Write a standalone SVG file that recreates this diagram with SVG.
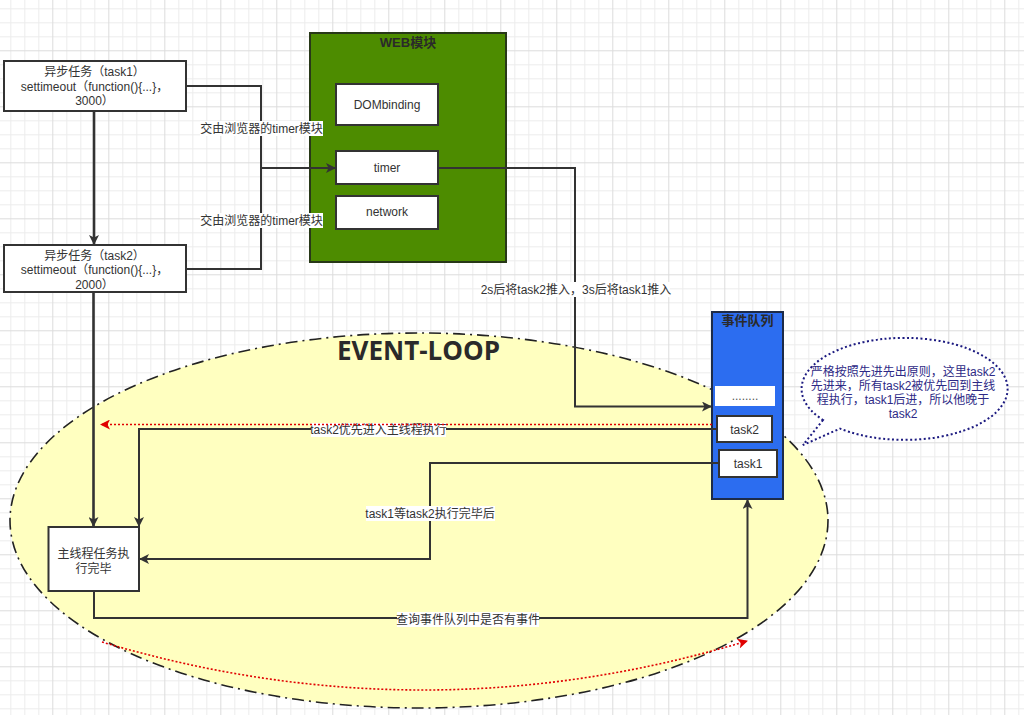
<svg xmlns="http://www.w3.org/2000/svg" width="1024" height="715" viewBox="0 0 1024 715">
<defs>
<pattern id="grid" patternUnits="userSpaceOnUse" x="10.3" y="8.3" width="56" height="56">
<path d="M0.5,0V56M14.5,0V56M28.5,0V56M0,0.5H56M0,14.5H56M0,28.5H56" stroke="#ececec" stroke-width="1" fill="none"/>
<path d="M42.5,0V56M0,42.5H56" stroke="#dcdcdc" stroke-width="1" fill="none"/>
</pattern>
<marker id="arr" viewBox="0 0 10 10" refX="9" refY="5" markerWidth="11" markerHeight="10" markerUnits="userSpaceOnUse" orient="auto">
<path d="M0,0 L10,5 L0,10 L2.5,5 Z" fill="#333"/>
</marker>
<marker id="arrRed" viewBox="0 0 10 10" refX="9" refY="5" markerWidth="11" markerHeight="10" markerUnits="userSpaceOnUse" orient="auto">
<path d="M0,0 L10,5 L0,10 L2.5,5 Z" fill="#e00000"/>
</marker>
<style>
text{font-family:"Liberation Sans","Noto Sans CJK SC",sans-serif;font-size:12px;fill:#333;text-anchor:middle}
.box{fill:#fff;stroke:#333;stroke-width:2}
.ln{fill:none;stroke:#333;stroke-width:2}
.thick{fill:none;stroke:#333;stroke-width:2.6}
.red{fill:none;stroke:#e00000;stroke-width:1.6;stroke-dasharray:2 2}
.lbg{fill:#fff}
.title{font-weight:bold;font-size:13px;fill:#2a2a2a}
.note{fill:#2e2a86}
</style>
</defs>
<rect width="1024" height="715" fill="#fff"/>
<rect width="1024" height="715" fill="url(#grid)"/>

<g id="event-loop">
<ellipse cx="419" cy="520.5" rx="409" ry="187.5" fill="#ffffc0" stroke="#222" stroke-width="1.6" stroke-dasharray="12 5 2 5"/>
<text x="418.5" y="360" style="font-family:'Open Sans','Noto Sans CJK SC',sans-serif;font-size:26px;font-weight:bold;fill:#2a2a2a">EVENT-LOOP</text>
</g>

<g id="web-module">
<rect x="310" y="33" width="196" height="229" fill="#4d8c00" stroke="#283818" stroke-width="2"/>
<text class="title" x="408" y="47">WEB模块</text>
</g>
<g id="dombinding">
<rect class="box" x="336" y="84" width="102" height="41"/>
<text x="387" y="109">DOMbinding</text>
</g>
<g id="timer">
<rect class="box" x="336" y="151" width="102" height="33"/>
<text x="387" y="172">timer</text>
</g>
<g id="network">
<rect class="box" x="336" y="196" width="102" height="33"/>
<text x="387" y="216">network</text>
</g>

<g id="task1-async">
<rect class="box" x="4" y="61" width="182" height="50"/>
<text x="94.5" y="76">异步任务（task1）</text>
<text x="94.5" y="90.5">settimeout（function(){...}，</text>
<text x="94.5" y="105">3000）</text>
</g>
<g id="task2-async">
<rect class="box" x="4" y="245" width="182" height="47"/>
<text x="94.5" y="259.5">异步任务（task2）</text>
<text x="94.5" y="274">settimeout（function(){...}，</text>
<text x="94.5" y="288.5">2000）</text>
</g>

<g id="event-queue">
<rect x="712" y="312" width="71" height="187" fill="#2c6df0" stroke="#1d2b48" stroke-width="2"/>
<text class="title" x="747.5" y="325">事件队列</text>
<rect x="715" y="386" width="60" height="20" fill="#fff"/>
<text x="745" y="400" style="fill:#555">........</text>
</g>
<g id="queue-task2">
<rect class="box" x="717" y="416" width="55" height="26"/>
<text x="744.5" y="433.5">task2</text>
</g>
<g id="queue-task1">
<rect class="box" x="719" y="450" width="58" height="27"/>
<text x="748" y="467.5">task1</text>
</g>

<g id="main-thread">
<rect class="box" x="48.5" y="527" width="90.5" height="64"/>
<text x="93.5" y="558">主线程任务执</text>
<text x="93.5" y="573">行完毕</text>
</g>

<g id="callout">
<path d="M823,420 L803,445 L840,428.6 A103,51 0 1 0 823,420 Z" fill="#fff" stroke="#1c1a80" stroke-width="2" stroke-dasharray="2 2.5"/>
<text class="note" x="903" y="375.5">严格按照先进先出原则，这里task2</text>
<text class="note" x="903" y="389.5">先进来，所有task2被优先回到主线</text>
<text class="note" x="903" y="404">程执行，task1后进，所以他晚于</text>
<text class="note" x="903" y="418">task2</text>
</g>

<g id="connectors">
<path class="thick" d="M94,111 V244" marker-end="url(#arr)"/>
<path class="ln" d="M186,86 H261 V168 H335" marker-end="url(#arr)"/>
<path class="ln" d="M186,269 H261 V168"/>
<path class="ln" d="M438,168 H575 V406.5 H711" marker-end="url(#arr)"/>
<path class="thick" d="M93.5,292 V526" marker-end="url(#arr)"/>
<path class="ln" d="M717,429 H139 V526" marker-end="url(#arr)"/>
<path class="ln" d="M719,463 H430 V559 H140" marker-end="url(#arr)"/>
<path class="ln" d="M94,591 V618 H747.5 V500" marker-end="url(#arr)"/>

<rect class="lbg" x="200" y="121" width="123" height="15"/>
<text x="261.5" y="132.5">交由浏览器的timer模块</text>
<rect class="lbg" x="200" y="213" width="123" height="15"/>
<text x="261.5" y="224.5">交由浏览器的timer模块</text>
<rect class="lbg" x="482" y="282" width="188" height="15"/>
<text x="576" y="293.5">2s后将task2推入，3s后将task1推入</text>
<rect class="lbg" x="311" y="423" width="135" height="14"/>
<text x="378.5" y="434">task2优先进入主线程执行</text>
<rect class="lbg" x="366" y="506" width="129" height="15"/>
<text x="430" y="517.5">task1等task2执行完毕后</text>
<rect class="lbg" x="397" y="612" width="142" height="15"/>
<text x="468" y="623.5">查询事件队列中是否有事件</text>

<path class="red" d="M712,424.5 H101" marker-end="url(#arrRed)"/>
<path class="red" d="M102,642 Q425,738.5 747,641" marker-end="url(#arrRed)"/>
</g>
</svg>
